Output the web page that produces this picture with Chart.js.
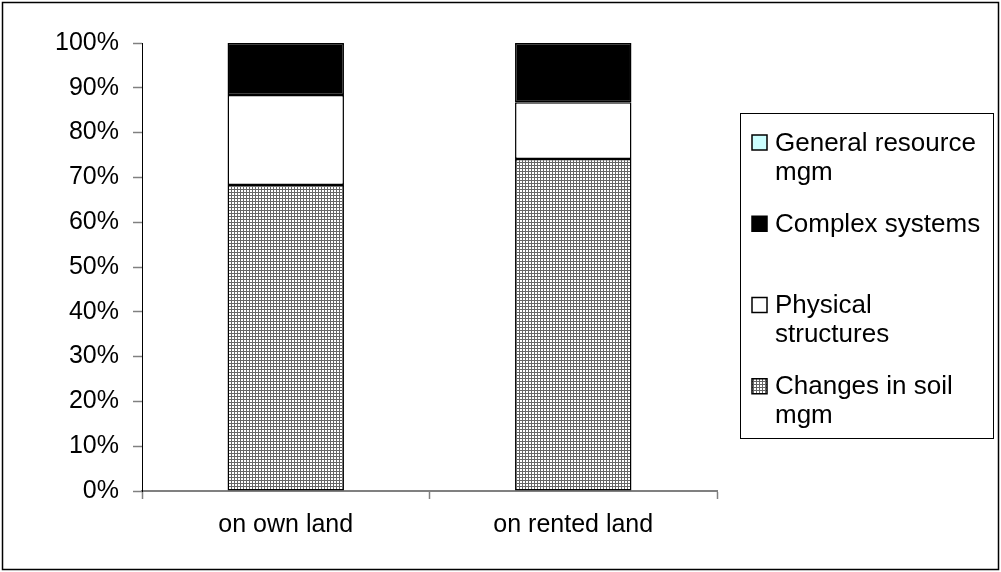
<!DOCTYPE html>
<html>
<head>
<meta charset="utf-8">
<script src="https://cdn.jsdelivr.net/npm/chart.js@4.4.1/dist/chart.umd.min.js"></script>
<style>
  html, body { margin: 0; padding: 0; background: #fff; }
  #wrap { width: 1001px; height: 572px; }
</style>
</head>
<body>
<div id="wrap"><canvas id="c" width="1001" height="572"></canvas></div>
<script>
// Land categories on the x axis
const categories = ['on own land', 'on rented land'];

// Share of measures (%) per land type, bottom to top of each stack
const soilMgm = [68.3, 74.1];
const physicalStructures = [20.1, 12.7];
const complexSystems = [11.6, 13.2];
const generalResourceMgm = [0, 0];

// Legend entry text, broken into lines as shown in the legend box
const legendLines = {
  general: ['General resource', 'mgm'],
  complex: ['Complex systems'],
  physical: ['Physical', 'structures'],
  soil: ['Changes in soil', 'mgm']
};

// Y axis tick values
const yTicks = [0, 10, 20, 30, 40, 50, 60, 70, 80, 90, 100];

const FONT = "'Liberation Sans', Arial, sans-serif";

// Fine grey grid used for the soil management fill
function gridPattern(ctx) {
  const p = document.createElement('canvas');
  p.width = 3; p.height = 3;
  const g = p.getContext('2d');
  g.fillStyle = '#ffffff';
  g.fillRect(0, 0, 3, 3);
  g.fillStyle = '#666666';
  g.fillRect(0, 0, 3, 1);
  g.fillRect(0, 0, 1, 3);
  return ctx.createPattern(p, 'repeat');
}

const canvas = document.getElementById('c');
const ctx = canvas.getContext('2d');
const soilFill = gridPattern(ctx);

const datasets = [
  { key: 'soil', label: legendLines.soil.join(' '), data: soilMgm, backgroundColor: soilFill },
  { key: 'physical', label: legendLines.physical.join(' '), data: physicalStructures, backgroundColor: '#ffffff' },
  { key: 'complex', label: legendLines.complex.join(' '), data: complexSystems, backgroundColor: '#000000' },
  { key: 'general', label: legendLines.general.join(' '), data: generalResourceMgm, backgroundColor: '#ccffff' }
].map(d => Object.assign({
  borderColor: '#000000',
  borderWidth: 1.5,
  borderSkipped: false,
  barPercentage: 0.405,
  categoryPercentage: 1.0
}, d));

// Outer frame plus the boxed legend on the right
const frameLegend = {
  id: 'frameLegend',
  afterDraw(chart) {
    const c = chart.ctx;
    c.save();
    c.strokeStyle = '#000000';
    c.lineWidth = 1.5;
    c.strokeRect(2.5, 2.5, 996, 567);

    const box = { x: 740.5, y: 113.5, w: 253, h: 325 };
    c.lineWidth = 1;
    c.strokeRect(box.x, box.y, box.w, box.h);

    const items = chart.data.datasets.slice().reverse();
    const slot = box.h / items.length;
    const lineH = 29;
    c.font = '26px ' + FONT;
    c.textBaseline = 'middle';
    c.textAlign = 'left';
    items.forEach((ds, i) => {
      const top = box.y + i * slot;
      const cy = top + 29;
      const sq = 15;
      const sx = 752;
      c.fillStyle = ds.backgroundColor;
      c.fillRect(sx, cy - sq / 2, sq, sq);
      c.strokeStyle = '#000000';
      c.lineWidth = 1.5;
      c.strokeRect(sx, cy - sq / 2, sq, sq);
      c.fillStyle = '#000000';
      legendLines[ds.key].forEach((t, j) => {
        c.fillText(t, 775, cy + j * lineH + 1);
      });
    });
    c.restore();
  }
};

new Chart(canvas, {
  type: 'bar',
  data: { labels: categories, datasets },
  options: {
    responsive: false,
    animation: false,
    layout: { padding: { left: 0, right: 284, top: 43, bottom: 0 } },
    plugins: { legend: { display: false }, tooltip: { enabled: false } },
    scales: {
      x: {
        stacked: true,
        afterFit(scale) { scale.height = 81; },
        grid: {
          offset: true,
          drawOnChartArea: false,
          drawTicks: true,
          tickLength: 8,
          tickColor: '#808080',
          tickWidth: 1.5
        },
        border: { color: '#808080', width: 2 },
        ticks: {
          color: '#000000',
          font: { family: FONT, size: 25 },
          padding: 11,
          maxRotation: 0
        }
      },
      y: {
        stacked: true,
        min: 0,
        max: 100,
        afterFit(scale) { scale.width = 142; },
        afterBuildTicks(scale) { scale.ticks = yTicks.map(v => ({ value: v })); },
        grid: {
          drawOnChartArea: false,
          drawTicks: true,
          tickLength: 9,
          tickColor: '#808080',
          tickWidth: 1.5
        },
        border: { color: '#000000', width: 1 },
        ticks: {
          color: '#000000',
          font: { family: FONT, size: 25 },
          padding: 14,
          callback: v => v + '%'
        }
      }
    }
  },
  plugins: [frameLegend]
});
</script>
</body>
</html>
